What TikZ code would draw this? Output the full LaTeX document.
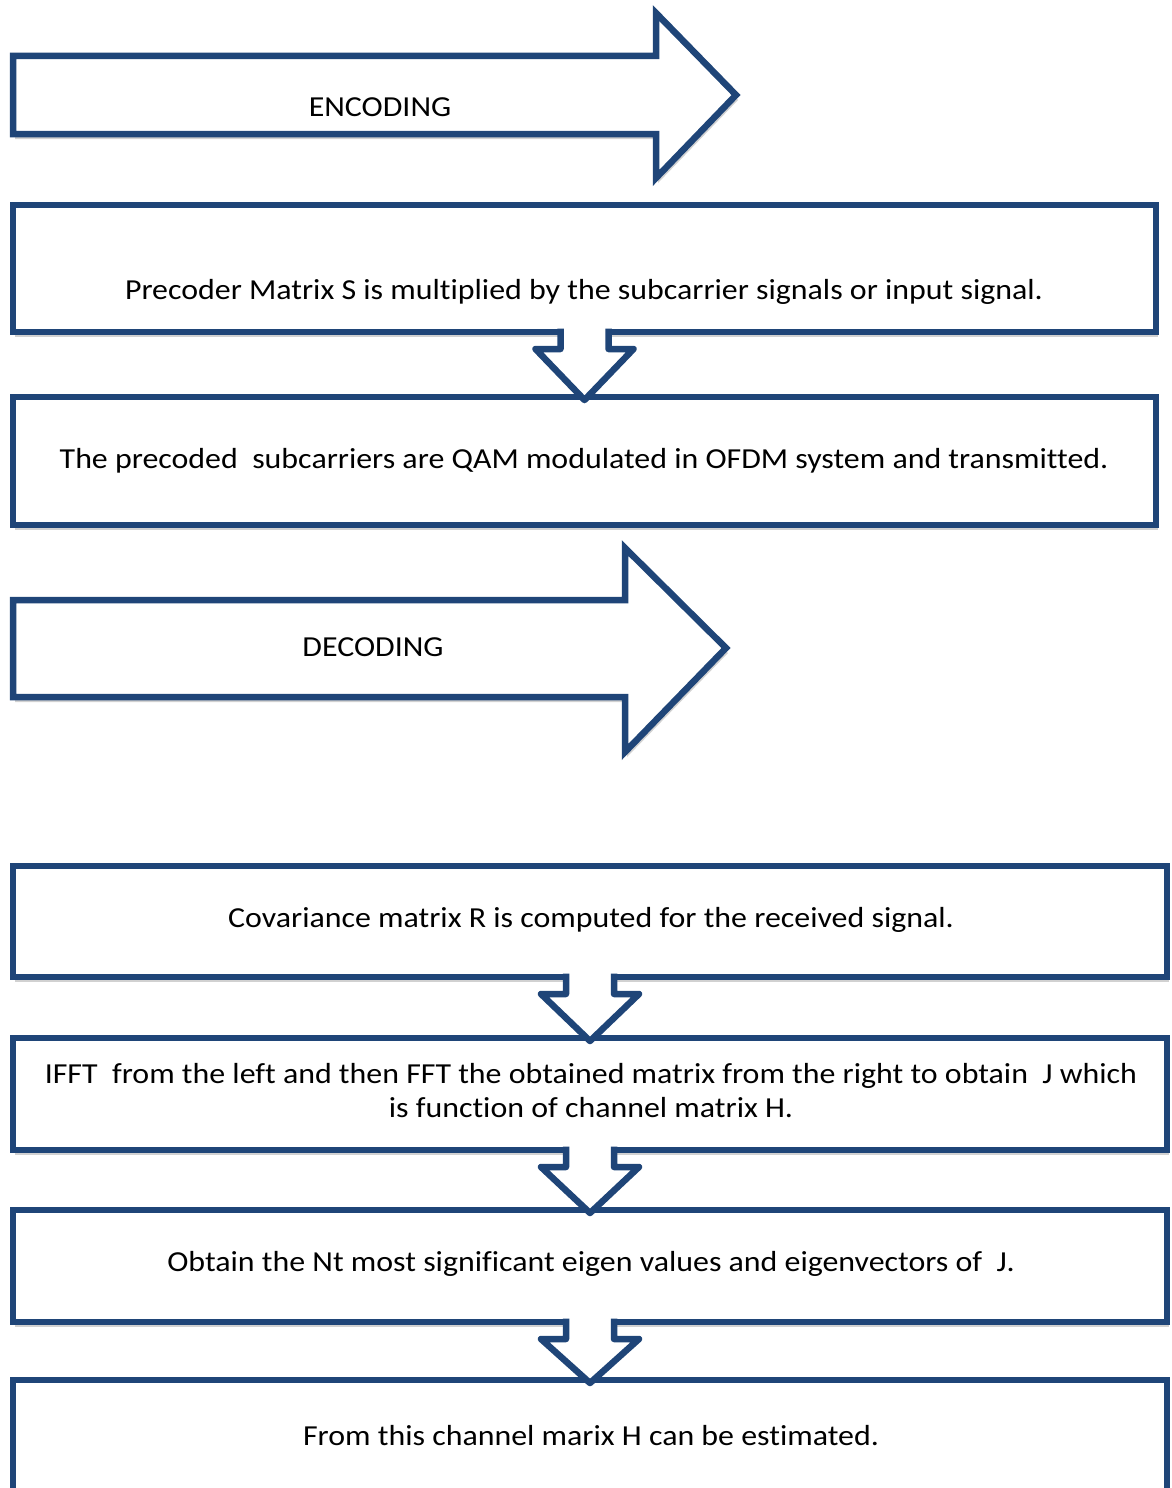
\documentclass[tikz,border=0pt]{standalone}
\usepackage{fontspec}
\setmainfont[FakeStretch=1.1, Ligatures=NoCommon]{Carlito}
\usetikzlibrary{calc,shadows}
\definecolor{boxblue}{RGB}{31,69,120}
\tikzset{
  outline/.style={draw=boxblue, line width=6.5pt, fill=white},
  softshadow/.style={drop shadow={shadow xshift=2pt, shadow yshift=-5pt, opacity=0.18, fill=black}},
  stepbox/.style={outline, softshadow, rectangle, outer sep=0pt, inner sep=0pt},
  txt/.style={font=\fontsize{29}{34}\selectfont, align=center, text=black, inner sep=0pt},
  flowdown/.style={draw=boxblue, line width=6.5pt, fill=white, line join=round},
}
\newcommand\blockdown[2]{%
  \draw[flowdown]
    ($(#1.south)+(-24,-3.5)$) -- ($(#1.south)+(-24,17)$) -- ($(#1.south)+(-49,17)$)
    -- ($(#1.south|-#2.north)+(0,3)$)
    -- ($(#1.south)+(49,17)$) -- ($(#1.south)+(24,17)$) -- ($(#1.south)+(24,-3.5)$);
}
\begin{document}
\begin{tikzpicture}[x=1pt,y=-1pt]
\useasboundingbox (0,0) rectangle (1171,1488);
\clip (0,0) rectangle (1171,1488);
% big arrows
\draw[outline, softshadow] (13,56) -- (656,56) -- (656,13) -- (736,95) -- (656,178) -- (656,134) -- (13,134) -- cycle;
\draw[outline, softshadow] (13,600) -- (625,600) -- (625,548) -- (726,648) -- (625,752) -- (625,697) -- (13,697) -- cycle;
% boxes
\node[stepbox, minimum width=1143pt, minimum height=127pt] (b1) at (584.5,268.5) {};
\node[stepbox, minimum width=1143pt, minimum height=128pt] (b2) at (584.5,461) {};
\node[stepbox, minimum width=1154pt, minimum height=111pt] (b3) at (590,921.5) {};
\node[stepbox, minimum width=1154pt, minimum height=112pt] (b4) at (590,1094) {};
\node[stepbox, minimum width=1154pt, minimum height=112pt] (b5) at (590,1266) {};
\node[stepbox, minimum width=1154pt, minimum height=160pt] (b6) at (590,1460) {};
% down arrows
\blockdown{b1}{b2}
\blockdown{b3}{b4}
\blockdown{b4}{b5}
\blockdown{b5}{b6}
% texts
\node[txt] (enc) at (380,107) {ENCODING};
\node[txt] (dec) at (373,647) {DECODING};
\node[txt] (t1) at (584,292) {Precoder Matrix S is multiplied by the subcarrier signals or input signal.};
\node[txt] (t2) at (584,461) {The precoded\ \ subcarriers are QAM modulated in OFDM system and transmitted.};
\node[txt] (t3) at (591,920) {Covariance matrix R is computed for the received signal.};
\node[txt] (t4) at (591,1091) {IFFT\ \ from the left and then FFT the obtained matrix from the right to obtain\ \ J which\\is function of channel matrix H.};
\node[txt] (t5) at (591,1264) {Obtain the Nt most significant eigen values and eigenvectors of\ \ J.};
\node[txt] (t6) at (591,1436) {From this channel marix H can be estimated.};
\end{tikzpicture}
\end{document}
